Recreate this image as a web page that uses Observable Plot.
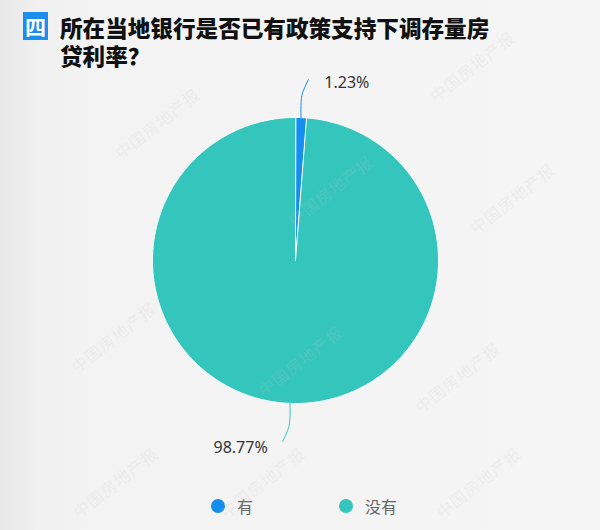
<!DOCTYPE html>
<html>
<head>
<meta charset="utf-8">
<script src="https://cdn.jsdelivr.net/npm/d3@7"></script>
<script src="https://cdn.jsdelivr.net/npm/@observablehq/plot@0.6"></script>
<style>
  html, body { margin: 0; padding: 0; }
  body {
    width: 600px; height: 530px; overflow: hidden; position: relative;
    background: linear-gradient(to right, #e8e8e8 0px, #f0f0f0 35px, #f3f3f3 90px, #f5f5f5 100%);
    font-family: "Noto Sans CJK SC", "Noto Sans", sans-serif;
  }
  #title { position: relative; height: 72px; }
  #badge {
    position: absolute; left: 23px; top: 12px; width: 25px; height: 28px;
    background: #1a8ff0; color: #fff; font-weight: 700; font-size: 21px;
    line-height: 28px; text-align: center;
  }
  #heading {
    position: absolute; left: 60px; top: 14px; margin: 0;
    font-size: 22.6px; font-weight: 900; line-height: 28px; color: #111;
    white-space: nowrap;
  }
  #chart svg { display: block; }
  #legend {
    position: absolute; left: 0; top: 494px; width: 600px; height: 24px;
    box-sizing: border-box; padding-left: 8px;
    display: flex; justify-content: center; align-items: center; gap: 86px;
    font-size: 16px; color: #666;
  }
  .item { display: flex; align-items: center; }
  .dot { width: 14px; height: 14px; border-radius: 50%; margin-right: 12px; }
  #marks { position: absolute; inset: 0; pointer-events: none; }
  .wm {
    position: absolute; transform: translate(-50%, -50%) rotate(-38deg);
    font-size: 16px; color: rgba(200, 200, 200, 0.2); white-space: nowrap;
    font-family: "Noto Sans CJK SC", serif; letter-spacing: 1px;
  }
</style>
</head>
<body>
<div id="title">
  <div id="badge">四</div>
  <h1 id="heading">所在当地银行是否已有政策支持下调存量房<br>贷利率？</h1>
</div>
<div id="chart"></div>
<div id="legend"></div>
<div id="marks"></div>
<script>
// Survey answers and their shares (%)
const categories = ["有", "没有"];
const shares = [1.23, 98.77];
const colors = ["#168ef0", "#34c5bd"];
const valueLabels = ["1.23%", "98.77%"];

// Watermark positions (page pixels) for the publisher stamp
const stampText = "中国房地产报";
const stampX = [157, 330, 472, 113, 300, 512, 457, 115, 262, 478];
const stampY = [123, 190, 66, 337, 360, 198, 377, 482, 482, 482];

// Pie geometry in a unit-circle coordinate space; angles run clockwise from 12 o'clock
const arcs = d3.pie().sort(null).startAngle(0).endAngle(2 * Math.PI)(shares);
const slicePoints = [];
arcs.forEach((a, i) => {
  slicePoints.push({name: categories[i], x: 0, y: 0});
  const n = Math.max(2, Math.ceil((a.endAngle - a.startAngle) / (Math.PI / 360)));
  for (let k = 0; k <= n; k++) {
    const t = a.startAngle + (a.endAngle - a.startAngle) * k / n;
    slicePoints.push({name: categories[i], x: Math.sin(t), y: Math.cos(t)});
  }
});

// Leader lines: out from the slice's mid angle, then bending toward the label
const leaders = [];
const labels = [];
arcs.forEach((a, i) => {
  const m = (a.startAngle + a.endAngle) / 2;
  const sx = Math.sin(m), sy = Math.cos(m);
  const hx = sx >= 0 ? 1 : -1, vy = sy >= 0 ? 1 : -1;
  const p0 = {x: sx, y: sy};
  const p1 = {x: sx * 1.155, y: sy * 1.155};
  const p2 = {x: p1.x + hx * 0.045, y: p1.y + vy * 0.11};
  [p0, p1, p2].forEach(p => leaders.push({name: categories[i], ...p}));
  labels.push({name: categories[i], text: valueLabels[i], x: p2.x, y: p2.y, side: hx, up: vy > 0});
});

const labelFont = {fontSize: 16, fill: "#333", fontFamily: "'Noto Sans', 'Noto Sans CJK SC', sans-serif"};

const chart = Plot.plot({
  width: 600,
  height: 415,
  marginLeft: 152,
  marginRight: 162,
  marginTop: 45,
  marginBottom: 84,
  x: {domain: [-1, 1], axis: null},
  y: {domain: [-1, 1], axis: null},
  color: {domain: categories, range: colors},
  style: {background: "transparent", overflow: "visible"},
  marks: [
    Plot.line(slicePoints, {
      x: "x", y: "y", z: "name", fill: "name",
      stroke: "#ffffff", strokeWidth: 1, curve: "linear-closed"
    }),
    Plot.line(leaders, {
      x: "x", y: "y", z: "name", stroke: "name", strokeWidth: 1, curve: "catmull-rom"
    }),
    Plot.text(labels.filter(d => d.up), {
      x: "x", y: "y", text: "text", dx: 16, dy: 3,
      textAnchor: "start", ...labelFont
    }),
    Plot.text(labels.filter(d => !d.up), {
      x: "x", y: "y", text: "text", dx: -15, dy: 7,
      textAnchor: "end", ...labelFont
    })
  ]
});
document.getElementById("chart").appendChild(chart);

// Legend below the chart
const legend = document.getElementById("legend");
categories.forEach((c, i) => {
  const item = document.createElement("div");
  item.className = "item";
  const dot = document.createElement("span");
  dot.className = "dot";
  dot.style.background = colors[i];
  const txt = document.createElement("span");
  txt.textContent = c;
  item.append(dot, txt);
  legend.appendChild(item);
});

// Publisher watermark stamps over the page
const marks = document.getElementById("marks");
stampX.forEach((x, i) => {
  const s = document.createElement("span");
  s.className = "wm";
  s.textContent = stampText;
  s.style.left = x + "px";
  s.style.top = stampY[i] + "px";
  marks.appendChild(s);
});
</script>
</body>
</html>
